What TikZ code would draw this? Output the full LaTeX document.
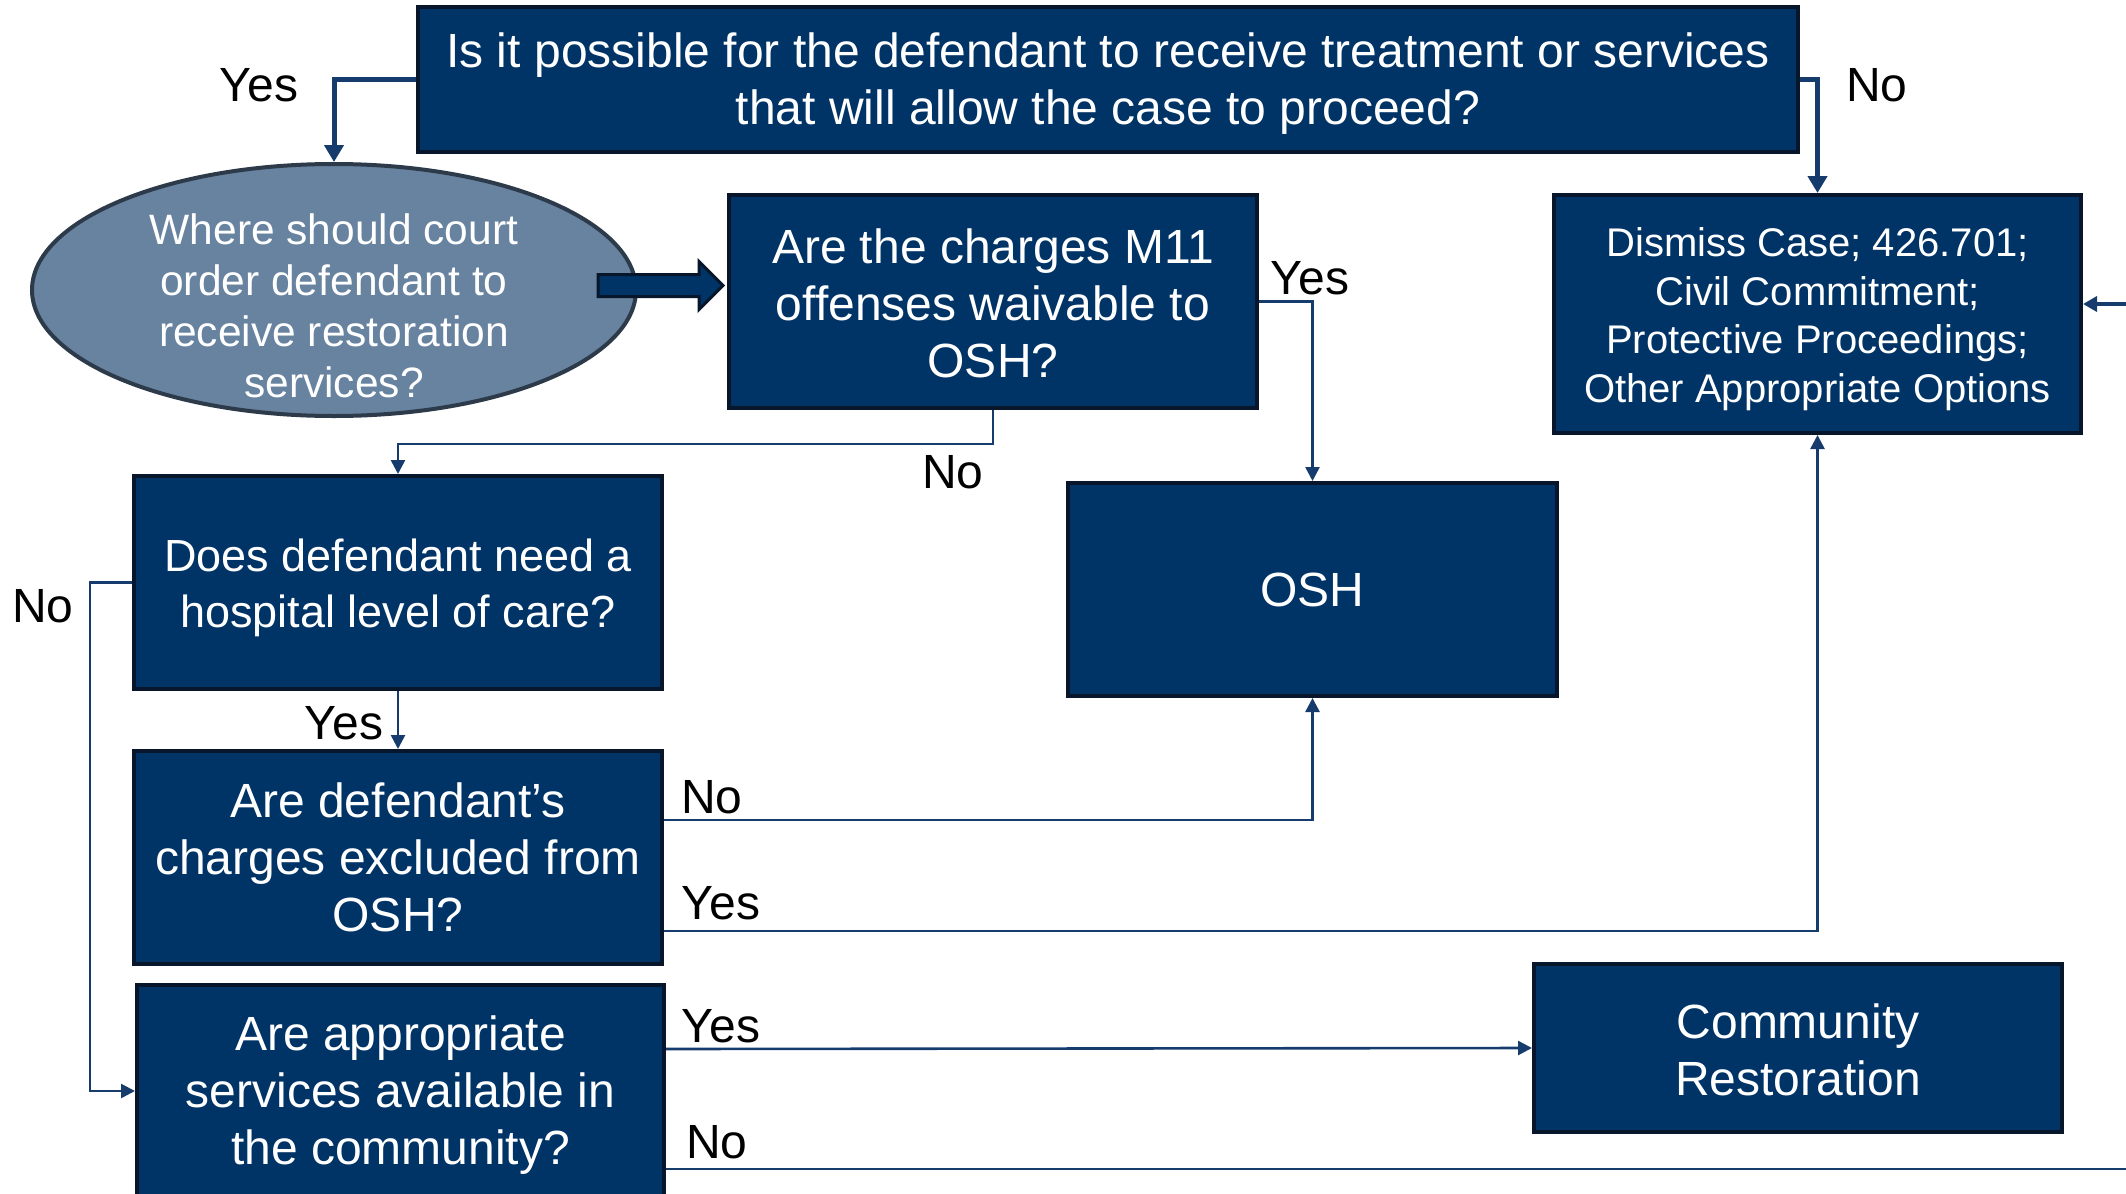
\documentclass[tikz,border=0pt]{standalone}
\usepackage{fontspec}
\setmainfont{Liberation Sans}
\usetikzlibrary{arrows.meta, calc, positioning, shapes.geometric}
\definecolor{boxnavy}{RGB}{0,51,102}
\definecolor{boxedge}{RGB}{8,22,44}
\definecolor{linknavy}{RGB}{22,60,110}
\definecolor{ovalfill}{RGB}{103,131,160}
\definecolor{ovaledge}{RGB}{44,58,74}
\newcommand{\textlift}[1]{\rule{0pt}{#1pt}}

\begin{document}
\begin{tikzpicture}[x=1pt, y=-1pt,
    qbox/.style={draw=boxedge, fill=boxnavy, line width=4pt, text=white, align=center,
                 inner sep=0pt, minimum width=528, minimum height=213,
                 font=\fontsize{48}{57}\selectfont},
    oval/.style={ellipse, draw=ovaledge, fill=ovalfill, line width=4pt, text=white, align=center,
                 inner xsep=0pt, inner ysep=-30pt, minimum width=604, minimum height=252,
                 font=\fontsize{42.5}{51}\selectfont},
    lbl/.style={font=\fontsize{48}{57}\selectfont, text=black},
    thicklink/.style={draw=linknavy, line width=5pt, -{Triangle[width=19pt,length=17pt]}},
    thinlink/.style={draw=linknavy, line width=2.6pt, -{Triangle[width=14pt,length=14pt]}},
    bigarrow/.style={draw=boxedge, fill=boxnavy, line width=3pt, line join=miter}
]
    \useasboundingbox (0,0) rectangle (2126,1194);

    % Top question
    \node[qbox, minimum width=1380, minimum height=145] (possible) at (1108,79.5)
        {\textlift{43}Is it possible for the defendant to receive treatment or services\\that will allow the case to proceed?};

    % Restoration site
    \node[oval] (where) at (334,290)
        {\textlift{63}Where should court\\order defendant to\\receive restoration\\services?};

    % Decision boxes
    \node[qbox] (waive) at (993,301.5) {\textlift{38}Are the charges M11\\offenses waivable to\\OSH?};
    \node[qbox, minimum width=489] (osh) at (1312.5,589.5) {OSH};
    \node[qbox, minimum width=527, minimum height=238, font=\fontsize{40}{48.5}\selectfont]
        (dismiss) at (1817.5,314)
        {\textlift{39}Dismiss Case; 426.701;\\Civil Commitment;\\Protective Proceedings;\\Other Appropriate Options};
    \node[qbox, font=\fontsize{45}{56}\selectfont] (hosp) at (398,582.5)
        {\textlift{44}Does defendant need a\\hospital level of care?};
    \node[qbox] (excl) at (398,857.5) {Are defendant’s\\charges excluded from\\OSH?};
    \node[qbox, minimum width=527] (serv) at (400.5,1091)
        {\textlift{43}Are appropriate\\services available in\\the community?};
    \node[qbox, minimum height=168] (comm) at (1798,1048) {\textlift{38}Community\\Restoration};

    % Off-page ends
    \coordinate (inright) at (2126,304);
    \coordinate (outright) at (2126,1169);

    % Top branches
    \draw[thicklink] (possible.west) -| (where.north);
    \draw[thicklink] (possible.east) -| (dismiss.north);
    \node[lbl] (yestop) at (259,85) {Yes};
    \node[lbl] (notop) at (1877,85) {No};

    % Block arrow from oval
    \coordinate (tip) at ($(waive.west)+(-4,-16)$);
    \draw[bigarrow] ($(tip)+(-125,-11)$) -- ($(tip)+(-24,-11)$) -- ($(tip)+(-24,-24)$) -- (tip)
        -- ($(tip)+(-24,24)$) -- ($(tip)+(-24,11)$) -- ($(tip)+(-125,11)$) -- cycle;

    % Waivable
    \draw[thinlink] (waive.east) -| (osh.north);
    \node[lbl] (yeswaive) at (1310,278) {Yes};
    \draw[thinlink] (waive.south) -- ++(0,34) -| (hosp.north);
    \node[lbl] (nowaive) at (953,472) {No};

    % Hospital level
    \draw[thinlink] (hosp.south) -- (excl.north);
    \node[lbl] (yeshosp) at (344,723) {Yes};
    \draw[thinlink] (hosp.west) -- ++(-42,0) |- (serv.west);
    \node[lbl] (nohosp) at (43,606) {No};

    % Excluded
    \draw[thinlink] ($(excl.east)+(0,-37.5)$) -| (osh.south);
    \node[lbl] (noexcl) at (712,797) {No};
    \draw[thinlink] ($(excl.east)+(0,73.5)$) -| (dismiss.south);
    \node[lbl] (yesexcl) at (721,903) {Yes};

    % Community services
    \draw[thinlink] ($(serv.east)+(0,-42)$) -- (comm.west);
    \node[lbl] (yesserv) at (721,1026) {Yes};
    \draw[draw=linknavy, line width=2.6pt] ($(serv.east)+(0,78)$) -- (outright);
    \node[lbl] (noserv) at (717,1142) {No};
    \draw[draw=linknavy, line width=3.5pt, -{Triangle[width=15pt,length=14pt]}] (inright) -- (dismiss.east |- inright);
\end{tikzpicture}
\end{document}
